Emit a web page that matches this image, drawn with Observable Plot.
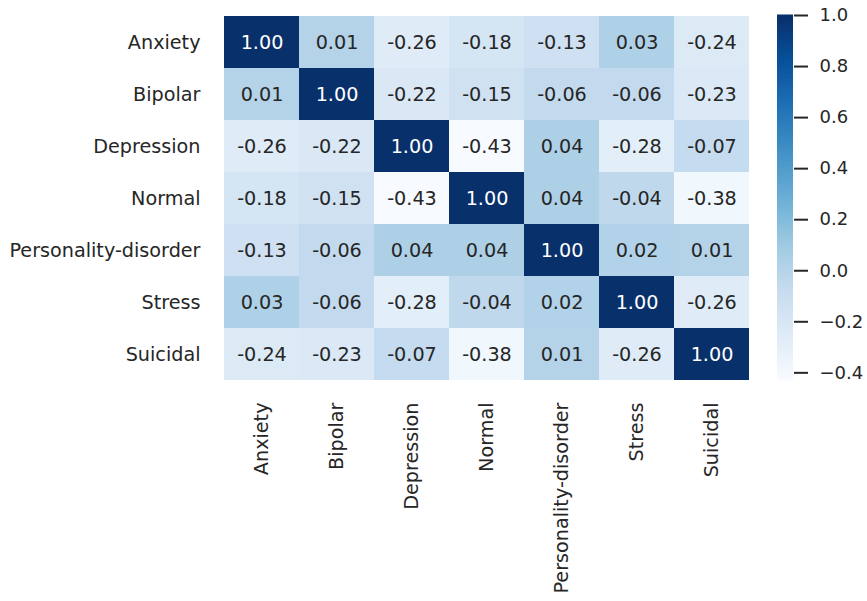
<!DOCTYPE html>
<html>
<head>
<meta charset="utf-8">
<script src="https://cdn.jsdelivr.net/npm/d3@7"></script>
<script src="https://cdn.jsdelivr.net/npm/@observablehq/plot@0.6"></script>
<style>
  html, body { margin: 0; padding: 0; background: #fff; }
  #wrap { position: relative; width: 867px; height: 601px; overflow: hidden; }
  #main, #bar { position: absolute; top: 0; }
  #main { left: 0; }
  #bar { left: 777px; }
  svg { font-family: "DejaVu Sans", sans-serif; }
</style>
</head>
<body>
<div id="wrap"><div id="main"></div><div id="bar"></div></div>
<script>
const categories = ["Anxiety", "Bipolar", "Depression", "Normal", "Personality-disorder", "Stress", "Suicidal"];
const anxiety     = [1.00, 0.01, -0.26, -0.18, -0.13, 0.03, -0.24];
const bipolar     = [0.01, 1.00, -0.22, -0.15, -0.06, -0.06, -0.23];
const depression  = [-0.26, -0.22, 1.00, -0.43, 0.04, -0.28, -0.07];
const normal      = [-0.18, -0.15, -0.43, 1.00, 0.04, -0.04, -0.38];
const personality = [-0.13, -0.06, 0.04, 0.04, 1.00, 0.02, 0.01];
const stress      = [0.03, -0.06, -0.28, -0.04, 0.02, 1.00, -0.26];
const suicidal    = [-0.24, -0.23, -0.07, -0.38, 0.01, -0.26, 1.00];
const colorbarTicks = [-0.4, -0.2, 0.0, 0.2, 0.4, 0.6, 0.8, 1.0];

const rows = [anxiety, bipolar, depression, normal, personality, stress, suicidal];
const table = [];
rows.forEach((r, i) => r.forEach((v, j) => table.push({row: categories[i], col: categories[j], value: v})));

const vmin = d3.min(table, d => d.value);
const vmax = d3.max(table, d => d.value);
const blues = ["#f7fbff","#deebf7","#c6dbef","#9ecae1","#6baed6","#4292c6","#2171b5","#08519c","#08306b"];
const interp = d3.piecewise(d3.interpolateRgb, blues);
const colorOpts = {type: "linear", domain: [vmin, vmax], interpolate: () => interp};
const textColor = "#262626";
const fs = 19.2;

const main = Plot.plot({
  width: 767, height: 601,
  marginLeft: 223, marginRight: 17, marginTop: 15, marginBottom: 221,
  style: {fontFamily: "DejaVu Sans, sans-serif", color: textColor, background: "white"},
  x: {domain: categories, padding: 0, label: null},
  y: {domain: categories, padding: 0, label: null},
  color: colorOpts,
  marks: [
    Plot.cell(table, {x: "col", y: "row", fill: "value", inset: 0, shapeRendering: "crispEdges"}),
    Plot.text(table, {x: "col", y: "row", text: d => d.value.toFixed(2), fontSize: fs,
      fill: d => d.value > 0.5 ? "white" : textColor}),
    Plot.axisX({tickRotate: -90, tickSize: 0, tickPadding: 22, fontSize: fs, label: null, fill: textColor}),
    Plot.axisY({tickSize: 0, tickPadding: 23, fontSize: fs, label: null, fill: textColor})
  ]
});
document.getElementById("main").appendChild(main);

// vertical colorbar
const steps = d3.range(0, 201).map(i => vmin + (vmax - vmin) * i / 200);
const segs = d3.pairs(steps).map(([a, b]) => ({y1: a, y2: b, v: (a + b) / 2}));
const bar = Plot.plot({
  width: 90, height: 601,
  marginLeft: 0, marginRight: 74, marginTop: 15, marginBottom: 221,
  style: {fontFamily: "DejaVu Sans, sans-serif", color: textColor, background: "white"},
  x: {domain: [0, 1], axis: null},
  y: {domain: [vmin, vmax], label: null},
  color: colorOpts,
  marks: [
    Plot.rect(segs, {x1: 0, x2: 1, y1: "y1", y2: "y2", fill: "v", inset: 0, insetTop: -0.5, insetBottom: -0.5}),
    Plot.axisY({anchor: "right", ticks: colorbarTicks, tickSize: 14, tickPadding: 12, strokeWidth: 2,
      stroke: textColor, fill: textColor, fontSize: 18, tickFormat: d3.format(".1f"), label: null})
  ]
});
document.getElementById("bar").appendChild(bar);
</script>
</body>
</html>
